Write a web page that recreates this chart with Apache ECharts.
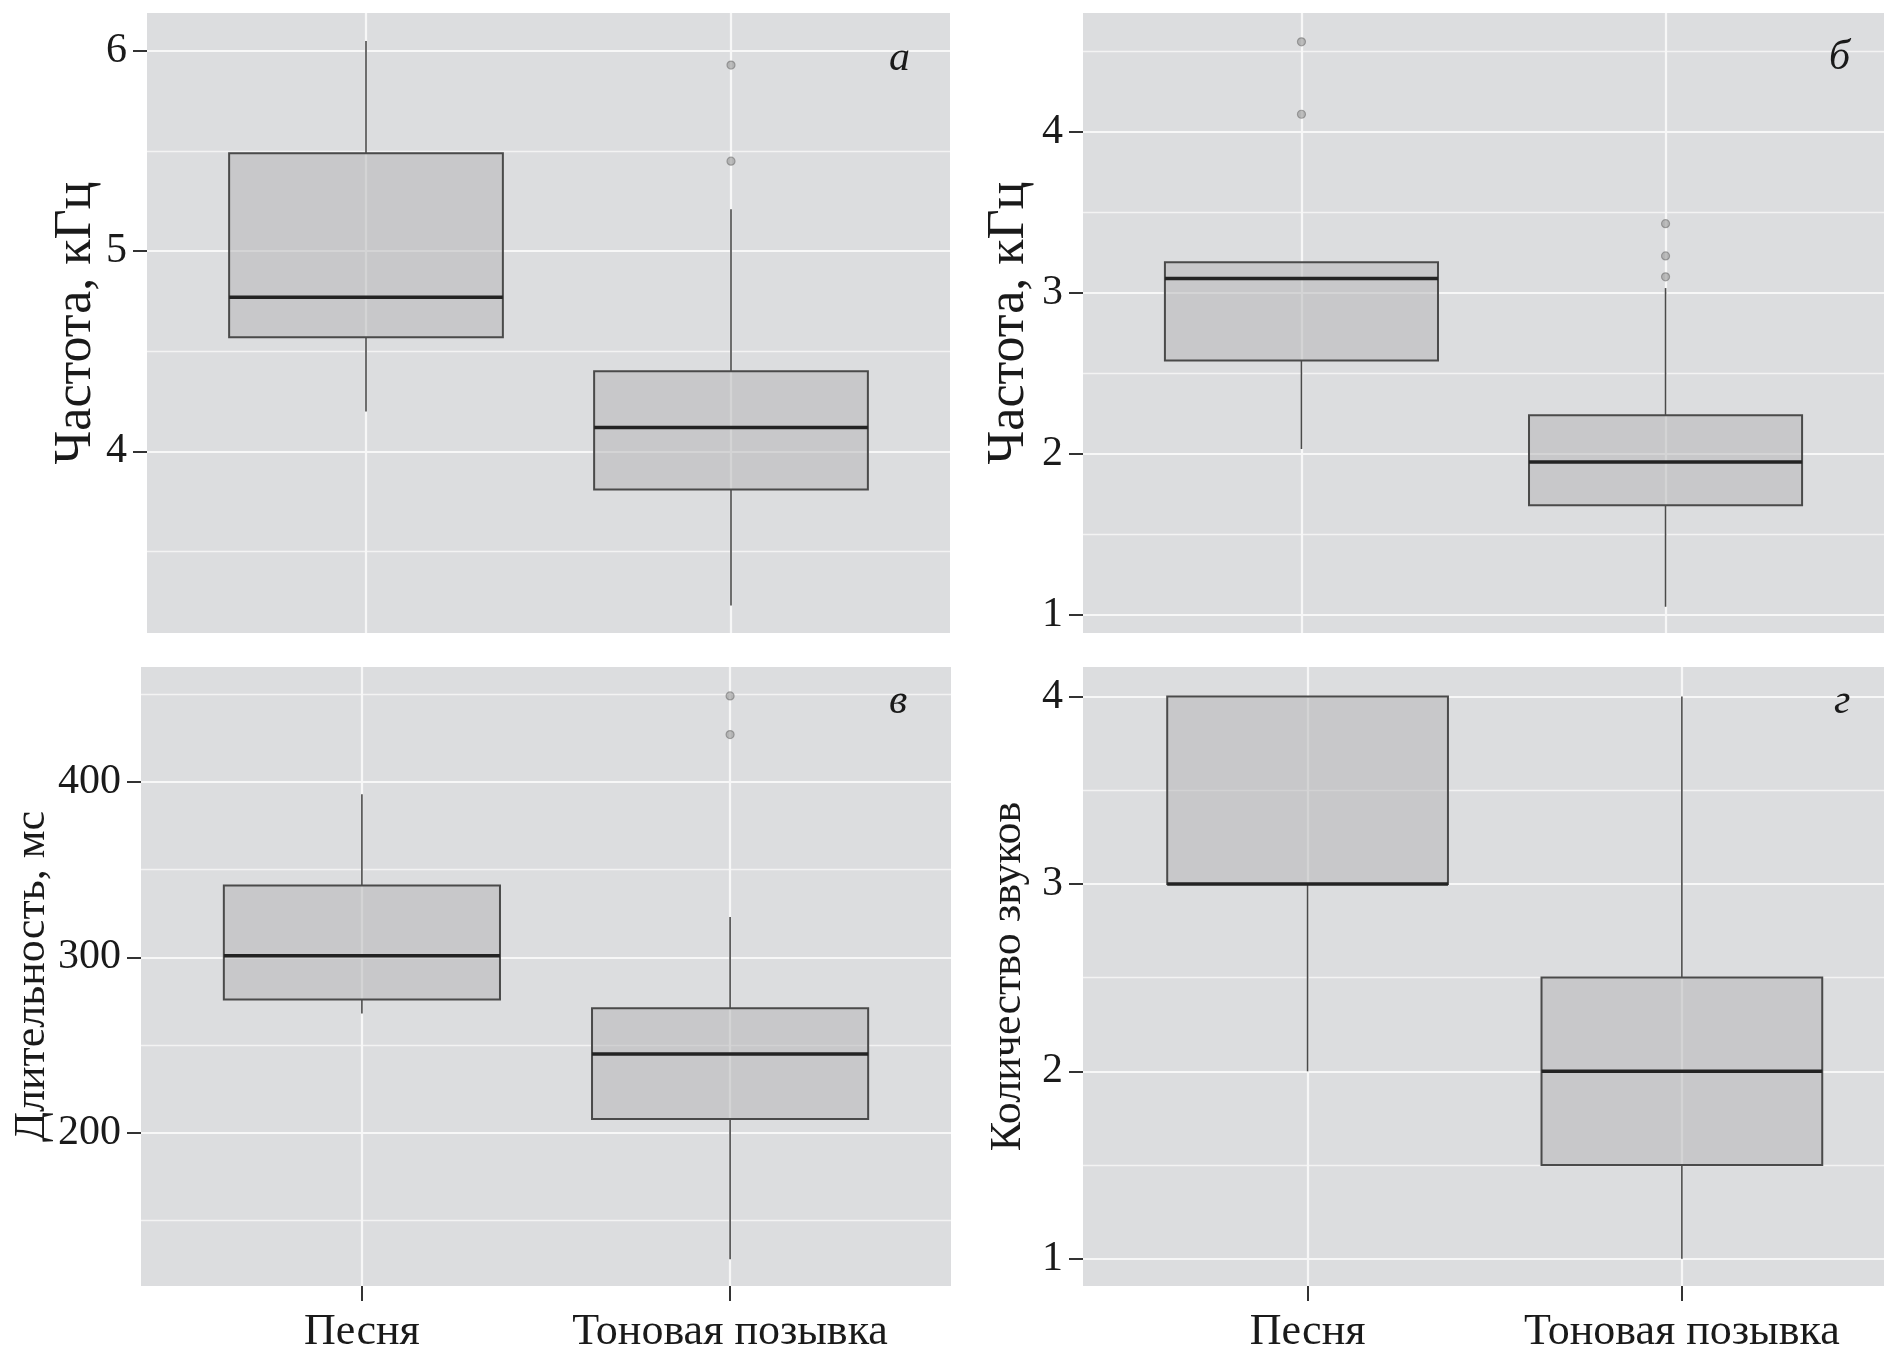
<!DOCTYPE html>
<html>
<head>
<meta charset="utf-8">
<script src="https://cdn.jsdelivr.net/npm/echarts@6/dist/echarts.min.js"></script>
<style>
html,body{margin:0;padding:0;background:#ffffff;}
#chart{width:1893px;height:1354px;}
</style>
</head>
<body>
<div id="chart"></div>
<script>
// ---- data ----
const categories = ['Песня', 'Тоновая позывка'];
// box stats: [lower whisker, Q1, median, Q3, upper whisker]
const freqA_song = [4.20, 4.57, 4.77, 5.49, 6.05];
const freqA_call = [3.23, 3.81, 4.12, 4.40, 5.21];
const freqA_songOut = [];
const freqA_callOut = [5.93, 5.45];

const freqB_song = [2.03, 2.58, 3.09, 3.19, 3.19];
const freqB_call = [1.05, 1.68, 1.95, 2.24, 3.03];
const freqB_songOut = [4.56, 4.11];
const freqB_callOut = [3.43, 3.23, 3.10];

const dur_song = [268, 276, 301, 341, 393];
const dur_call = [128, 208, 245, 271, 323];
const dur_songOut = [];
const dur_callOut = [449, 427];

const cnt_song = [2, 3, 3, 4, 4];
const cnt_call = [1, 1.5, 2, 2.5, 4];
const cnt_songOut = [];
const cnt_callOut = [];

const ticksA = [4, 5, 6], minorA = [3.5, 4.5, 5.5];
const ticksB = [1, 2, 3, 4], minorB = [1.5, 2.5, 3.5, 4.5];
const ticksC = [200, 300, 400], minorC = [150, 250, 350, 450];
const ticksD = [1, 2, 3, 4], minorD = [1.5, 2.5, 3.5];

const titles = ['Частота, кГц', 'Частота, кГц', 'Длительность, мс', 'Количество звуков'];
const letters = ['а', 'б', 'в', 'г'];

// ---- layout / style ----
const FONT = 'Liberation Serif, Times New Roman, serif';
const BG = '#DCDDDF';
const BOX_W = 0.75;

const panels = [
  {grid:{left:147, top:13, width:803, height:620}, x:[0.4, 2.6], y:[3.093, 6.19], ticks:ticksA, minor:minorA,
   song:freqA_song, call:freqA_call, songOut:freqA_songOut, callOut:freqA_callOut, gap:44, nameSize:52, bottom:false, letter:{left:889, top:38}},
  {grid:{left:1083, top:13, width:801, height:620}, x:[0.4, 2.6], y:[0.887, 4.739], ticks:ticksB, minor:minorB,
   song:freqB_song, call:freqB_call, songOut:freqB_songOut, callOut:freqB_callOut, gap:48, nameSize:52, bottom:false, letter:{left:1829, top:37}},
  {grid:{left:141, top:667, width:810, height:620}, x:[0.4, 2.6], y:[112.8, 465.5], ticks:ticksC, minor:minorC,
   song:dur_song, call:dur_call, songOut:dur_songOut, callOut:dur_callOut, gap:86, nameSize:44, bottom:true, letter:{left:889, top:681}},
  {grid:{left:1083, top:667, width:801, height:620}, x:[0.4, 2.54], y:[0.854, 4.158], ticks:ticksD, minor:minorD,
   song:cnt_song, call:cnt_call, songOut:cnt_songOut, callOut:cnt_callOut, gap:53, nameSize:44, bottom:true, letter:{left:1834, top:681}}
];

function renderBox(params, api) {
  const x = api.value(0);
  const lo = api.coord([x, api.value(1)]);
  const q1 = api.coord([x, api.value(2)]);
  const md = api.coord([x, api.value(3)]);
  const q3 = api.coord([x, api.value(4)]);
  const hi = api.coord([x, api.value(5)]);
  const w = api.size([BOX_W, 0])[0];
  const cx = md[0];
  const wStyle = {stroke:'#4a4a4a', lineWidth:1.6};
  return {type:'group', children:[
    {type:'line', shape:{x1:cx, y1:hi[1], x2:cx, y2:q3[1]}, style:wStyle},
    {type:'line', shape:{x1:cx, y1:q1[1], x2:cx, y2:lo[1]}, style:wStyle},
    {type:'rect', shape:{x:cx - w/2, y:q3[1], width:w, height:q1[1] - q3[1]},
     style:{fill:'rgba(185,185,187,0.57)', stroke:'#4a4a4a', lineWidth:2}},
    {type:'line', shape:{x1:cx - w/2, y1:md[1], x2:cx + w/2, y2:md[1]}, style:{stroke:'#232323', lineWidth:3.5}}
  ]};
}

const option = {
  backgroundColor:'#ffffff',
  animation:false,
  grid:[], xAxis:[], yAxis:[], series:[], title:[]
};

panels.forEach((p, i) => {
  option.grid.push(Object.assign({show:true, backgroundColor:BG, borderWidth:0}, p.grid));
  option.xAxis.push({
    type:'value', gridIndex:i, min:p.x[0], max:p.x[1],
    axisLine:{show:false},
    splitLine:{show:false},
    axisTick:{show:p.bottom, customValues:[1, 2], length:15, lineStyle:{color:'#333', width:2}},
    axisLabel:{show:p.bottom, customValues:[1, 2], margin:24, fontFamily:FONT, fontSize:44, color:'#1a1a1a',
      formatter:v => categories[Math.round(v) - 1] || ''}
  });
  option.yAxis.push({
    type:'value', gridIndex:i, min:p.y[0], max:p.y[1],
    name:titles[i], nameLocation:'middle', nameGap:p.gap,
    nameTextStyle:{fontFamily:FONT, fontSize:p.nameSize, color:'#1a1a1a'},
    axisLine:{show:false},
    splitLine:{show:false},
    axisTick:{show:true, customValues:p.ticks, length:14, lineStyle:{color:'#333', width:2}},
    axisLabel:{customValues:p.ticks, margin:20, fontFamily:FONT, fontSize:42, color:'#1a1a1a'}
  });
  const gridLines = [];
  p.ticks.forEach(v => gridLines.push({yAxis:v, lineStyle:{color:'#F7F7F7', width:2.2, type:'solid'}}));
  p.minor.forEach(v => gridLines.push({yAxis:v, lineStyle:{color:'#F3F3F3', width:1.4, type:'solid'}}));
  [1, 2].forEach(v => gridLines.push({xAxis:v, lineStyle:{color:'#F7F7F7', width:2.2, type:'solid'}}));
  option.series.push({
    type:'custom', xAxisIndex:i, yAxisIndex:i, z:2,
    renderItem:renderBox,
    encode:{x:0, y:[1,2,3,4,5]},
    data:[[1].concat(p.song), [2].concat(p.call)],
    silent:true,
    markLine:{silent:true, z:1, symbol:['none','none'], label:{show:false}, animation:false, data:gridLines}
  });
  const outs = p.songOut.map(v => [1, v]).concat(p.callOut.map(v => [2, v]));
  option.series.push({
    type:'scatter', xAxisIndex:i, yAxisIndex:i, z:3, silent:true,
    symbol:'circle', symbolSize:8,
    itemStyle:{color:'rgba(150,150,150,0.75)', borderColor:'rgba(120,120,120,0.8)', borderWidth:1.2},
    data:outs
  });
  option.title.push({text:letters[i], left:p.letter.left, top:p.letter.top, padding:0,
    textStyle:{fontFamily:FONT, fontStyle:'italic', fontWeight:'normal', fontSize:42, color:'#1a1a1a'}});
});

const chart = echarts.init(document.getElementById('chart'), null, {renderer:'canvas'});
chart.setOption(option);
</script>
</body>
</html>
